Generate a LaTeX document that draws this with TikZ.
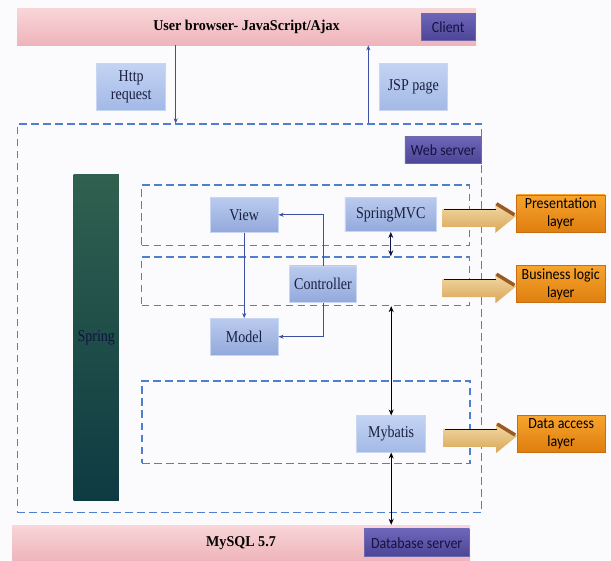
\documentclass[tikz,border=0pt]{standalone}
\usepackage{fontspec}
\setmainfont[FakeStretch=0.85]{Liberation Serif}
\newfontfamily\titlefont[FakeStretch=0.94]{Liberation Serif}
\newfontfamily\calibfont[FakeStretch=0.9]{Carlito}
\usetikzlibrary{arrows.meta,calc}
\definecolor{bgC}{HTML}{FBFBFD}
\definecolor{pinkT}{HTML}{F8D6D8}
\definecolor{pinkB}{HTML}{EEB4BA}
\definecolor{purT}{HTML}{6E66B9}
\definecolor{purB}{HTML}{4B4497}
\definecolor{purText}{HTML}{17123F}
\definecolor{blueT}{HTML}{BACBEE}
\definecolor{blueB}{HTML}{93A9DC}
\definecolor{blueE}{HTML}{C9D6F2}
\definecolor{navyText}{HTML}{1B1F3F}
\definecolor{lightT}{HTML}{C3D3F3}
\definecolor{lightB}{HTML}{A3B9E6}
\definecolor{springT}{HTML}{30614F}
\definecolor{springB}{HTML}{0E3A42}
\definecolor{dashC}{HTML}{4F7FD0}
\definecolor{arrowBlue}{HTML}{3B4FA3}
\definecolor{orT}{HTML}{F7A32E}
\definecolor{orB}{HTML}{DE7E0F}
\definecolor{orE}{HTML}{C86E10}
\definecolor{tanT}{HTML}{F3DAA8}
\definecolor{tanB}{HTML}{D8A656}
\definecolor{bevel}{HTML}{9A5A22}
\definecolor{darkNavy}{HTML}{0E1440}
\newcommand\fsz{\fontsize{16.5}{18}\selectfont}
\newcommand\csz{\fontsize{15.5}{18}\selectfont}
\newcommand\fatarrow[1]{%
  \coordinate (tip) at ($(#1.west)+(0,2)$);
  \shade[top color=tanT, bottom color=tanB]
    ($(tip)+(-74,-7)$) -- ($(tip)+(-21,-7)$) -- ($(tip)+(-21,-13)$)
    -- (tip) -- ($(tip)+(-21,17)$) -- ($(tip)+(-21,11)$)
    -- ($(tip)+(-74,11)$) -- cycle;
  \draw[line width=1.4pt, color=black!85!red] ($(tip)+(-72,-6.5)$) -- ($(tip)+(-20,-6.5)$);
  \draw[line width=3.5pt, color=bevel] ($(tip)+(-20,-12)$) -- ($(tip)+(-2,-1)$);
}
\begin{document}
\begin{tikzpicture}[x=1pt,y=-1pt,
  lbox/.style={rectangle, top color=blueT, bottom color=blueB, draw=blueE, line width=0.5pt,
    text=navyText, font=\fsz, align=center, inner sep=0pt},
  litebox/.style={lbox, top color=lightT, bottom color=lightB},
  pbox/.style={rectangle, top color=purT, bottom color=purB, draw=purB!80!white, line width=0.4pt,
    text=purText, font=\calibfont\csz, inner sep=0pt},
  obox/.style={rectangle, top color=orT, bottom color=orB, draw=orE, line width=0.4pt,
    text=black, font=\calibfont\csz, align=center, inner sep=0pt},
  barbox/.style={rectangle, top color=pinkT, bottom color=pinkB, inner sep=0pt,
    font=\titlefont\fontsize{15}{18}\selectfont\bfseries, text=black},
  dashbox/.style={rectangle, draw=dashC, line width=1.3pt, dash pattern=on 7.5pt off 4.5pt, inner sep=0pt},
  barrow/.style={draw=arrowBlue, line width=0.8pt, -{Stealth[length=5pt,width=4pt]}},
  darr/.style={draw=black, line width=1pt, {Stealth[length=6pt,width=5pt]}-{Stealth[length=6pt,width=5pt]}}
]
\fill[bgC] (0,0) rectangle (611,561);
\useasboundingbox (0,0) rectangle (611,561);

% bars
\node[barbox, minimum width=459pt, minimum height=37pt] (top) at (246.5,26.7) {User browser- JavaScript/Ajax};
\node[barbox, minimum width=458pt, minimum height=36pt] (bot) at (241,543) {MySQL 5.7};

% dashed containers
\node[dashbox, minimum width=464.4pt, minimum height=388.5pt] (web) at (249.5,318.25) {};
\node[dashbox, minimum width=327.8pt, minimum height=60.3pt] (pres) at (305.6,215.15) {};
\node[dashbox, minimum width=327.8pt, minimum height=48.5pt] (bus) at (305.6,281.25) {};
\node[dashbox, minimum width=328pt, minimum height=82.5pt] (data) at (306,422.25) {};

% labels
\node[pbox, minimum width=53.3pt, minimum height=27.4pt] (client) at (448.3,27) {Client};
\node[pbox, minimum width=76.7pt, minimum height=26.7pt] (websrv) at (443.3,150) {Web server};
\node[pbox, minimum width=105.3pt, minimum height=27.7pt] (dbsrv) at (416.7,542.8) {Database server};

\node[litebox, minimum width=69pt, minimum height=46.7pt] (http) at (131.2,86.7) {Http\\request};
\node[litebox, minimum width=68pt, minimum height=46.7pt] (jsp) at (413.3,86.7) {JSP page};

\node[rectangle, top color=springT, bottom color=springB, minimum width=45.3pt, minimum height=326.4pt,
  inner sep=0pt, font=\fsz, text=darkNavy] (spring) at (96.3,337.5) {Spring};

\node[lbox, minimum width=68.3pt, minimum height=35pt] (view) at (244.2,214.8) {View};
\node[lbox, minimum width=91.7pt, minimum height=34.4pt] (mvc) at (390.8,214.5) {SpringMVC};
\node[lbox, minimum width=67.4pt, minimum height=36.7pt] (ctrl) at (323,284.3) {Controller};
\node[lbox, minimum width=68.3pt, minimum height=36.7pt] (model) at (244.2,336.7) {Model};
\node[litebox, minimum width=69pt, minimum height=36.6pt] (mybatis) at (391.2,434) {Mybatis};

\node[obox, minimum width=88.3pt, minimum height=37.7pt] (lpres) at (560.8,213.8) {Presentation\\layer};
\node[obox, minimum width=88.3pt, minimum height=37pt] (lbus) at (560.8,284.2) {Business logic\\layer};
\node[obox, minimum width=87.7pt, minimum height=36.6pt] (ldata) at (561.2,434) {Data access\\layer};

% fat arrows
\fatarrow{lpres}
\fatarrow{lbus}
\fatarrow{ldata}

% connectors
\coordinate (downx) at (175.7,0);
\coordinate (upx) at (368.3,0);
\draw[barrow] (top.south -| downx) -- (web.north -| downx);
\draw[barrow] (web.north -| upx) -- (top.south -| upx);
\draw[barrow] (view.south) -- (model.north);
\draw[barrow] (ctrl.north) |- (view.east);
\draw[barrow] (ctrl.south) |- (model.east);
\draw[darr, draw=darkNavy] (mvc.south) -- (bus.north -| mvc.south);
\draw[darr] (bus.south -| mybatis.north) -- (mybatis.north);
\draw[darr] (mybatis.south) -- (bot.north -| mybatis.south);
\end{tikzpicture}
\end{document}
